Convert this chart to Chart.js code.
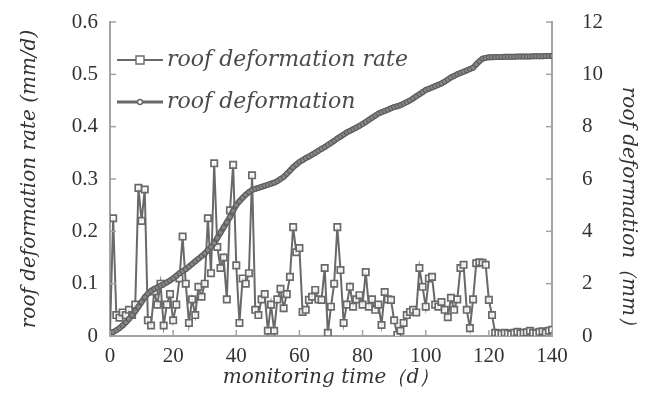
<!DOCTYPE html>
<html lang="en">
<head>
<meta charset="UTF-8">
<title>Roof deformation monitoring</title>
<script src="https://cdn.jsdelivr.net/npm/chart.js"></script>
<style>
  html, body { margin: 0; padding: 0; background: #fff; }
  #wrap { width: 646px; height: 418px; }
</style>
</head>
<body>
<div id="wrap"><canvas id="chart"></canvas></div>
<script>
// monitoring day
const days = [
  0, 1, 2, 3, 4, 5, 6, 7, 8, 9, 10, 11, 12, 13, 14, 15, 16, 17, 18, 19,
  20, 21, 22, 23, 24, 25, 26, 27, 28, 29, 30, 31, 32, 33, 34, 35, 36, 37, 38, 39,
  40, 41, 42, 43, 44, 45, 46, 47, 48, 49, 50, 51, 52, 53, 54, 55, 56, 57, 58, 59,
  60, 61, 62, 63, 64, 65, 66, 67, 68, 69, 70, 71, 72, 73, 74, 75, 76, 77, 78, 79,
  80, 81, 82, 83, 84, 85, 86, 87, 88, 89, 90, 91, 92, 93, 94, 95, 96, 97, 98, 99,
  100, 101, 102, 103, 104, 105, 106, 107, 108, 109, 110, 111, 112, 113, 114, 115, 116, 117, 118, 119,
  120, 121, 122, 123, 124, 125, 126, 127, 128, 129, 130, 131, 132, 133, 134, 135, 136, 137, 138, 139,
  140
];

// roof deformation rate (mm/d), left axis
const rate = [
  0.005, 0.225, 0.04, 0.035, 0.045, 0.04, 0.05, 0.04, 0.06, 0.283, 0.22, 0.28, 0.03, 0.02, 0.085, 0.06, 0.1, 0.02, 0.06, 0.08,
  0.03, 0.06, 0.11, 0.19, 0.1, 0.025, 0.07, 0.04, 0.094, 0.075, 0.1, 0.225, 0.12, 0.33, 0.17, 0.13, 0.15, 0.07, 0.24, 0.327,
  0.135, 0.025, 0.11, 0.1, 0.12, 0.307, 0.05, 0.04, 0.07, 0.08, 0.01, 0.06, 0.01, 0.07, 0.09, 0.053, 0.08, 0.113, 0.208, 0.16,
  0.168, 0.046, 0.05, 0.069, 0.075, 0.088, 0.07, 0.069, 0.13, 0.006, 0.056, 0.1, 0.208, 0.126, 0.025, 0.06, 0.094, 0.056, 0.07, 0.078,
  0.06, 0.122, 0.056, 0.07, 0.05, 0.06, 0.021, 0.084, 0.07, 0.069, 0.03, 0.002, 0.01, 0.025, 0.04, 0.046, 0.05, 0.045, 0.13, 0.094,
  0.056, 0.11, 0.113, 0.06, 0.056, 0.065, 0.05, 0.036, 0.073, 0.05, 0.07, 0.13, 0.136, 0.05, 0.015, 0.07, 0.139, 0.141, 0.14, 0.136,
  0.069, 0.04, 0.006, 0.005, 0.004, 0.006, 0.005, 0.003, 0.006, 0.008, 0.005, 0.006, 0.007, 0.01, 0.006, 0.005, 0.008, 0.009, 0.006, 0.01,
  0.012
];

// cumulative roof deformation (mm), right axis
const deformation = [
  0.10, 0.15, 0.22, 0.30, 0.40, 0.52, 0.65, 0.80, 0.95, 1.12, 1.30, 1.48, 1.62, 1.72, 1.80, 1.86, 1.92, 1.98, 2.05, 2.12,
  2.20, 2.30, 2.40, 2.48, 2.55, 2.65, 2.75, 2.85, 2.95, 3.05, 3.15, 3.28, 3.40, 3.55, 3.75, 3.95, 4.15, 4.35, 4.55, 4.78,
  5.00, 5.15, 5.28, 5.40, 5.50, 5.58, 5.62, 5.66, 5.70, 5.74, 5.78, 5.82, 5.86, 5.92, 6.00, 6.08, 6.20, 6.32, 6.45, 6.55,
  6.65, 6.72, 6.80, 6.86, 6.93, 7.00, 7.08, 7.15, 7.22, 7.30, 7.38, 7.46, 7.55, 7.62, 7.70, 7.78, 7.84, 7.90, 7.96, 8.03,
  8.10, 8.18, 8.26, 8.34, 8.42, 8.50, 8.55, 8.60, 8.65, 8.70, 8.75, 8.78, 8.82, 8.88, 8.94, 9.00, 9.08, 9.16, 9.24, 9.32,
  9.40, 9.45, 9.50, 9.55, 9.60, 9.65, 9.72, 9.80, 9.88, 9.94, 10.00, 10.05, 10.10, 10.15, 10.20, 10.25, 10.38, 10.50, 10.60, 10.63,
  10.65, 10.65, 10.66, 10.66, 10.66, 10.67, 10.67, 10.67, 10.67, 10.68, 10.68, 10.68, 10.68, 10.68, 10.69, 10.69, 10.69, 10.69, 10.70, 10.70,
  10.70
];

const seriesNames = ['roof deformation rate', 'roof deformation'];

const lineGrey = '#696969';
const axisGrey = '#a3a3a3';
const tickFont = { family: 'Liberation Serif', size: 21 };
const titleFont = { family: 'DejaVu Serif', size: 20, style: 'italic' };

// inward tick marks + legend with line/marker samples
const decor = {
  id: 'decor',
  afterDraw(chart) {
    const { ctx, chartArea: a, scales } = chart;
    ctx.save();
    ctx.strokeStyle = axisGrey;
    ctx.lineWidth = 1.5;
    const seg = (x1, y1, x2, y2) => { ctx.beginPath(); ctx.moveTo(x1, y1); ctx.lineTo(x2, y2); ctx.stroke(); };
    scales.y.ticks.forEach(t => { const p = scales.y.getPixelForValue(t.value); seg(a.left, p, a.left + 6, p); });
    scales.y1.ticks.forEach(t => { const p = scales.y1.getPixelForValue(t.value); seg(a.right - 6, p, a.right, p); });
    scales.x.ticks.forEach(t => { const p = scales.x.getPixelForValue(t.value); seg(p, a.bottom, p, a.bottom - 6); });

    // legend
    const rows = [60, 102];
    ctx.font = 'italic 22px "DejaVu Serif"';
    ctx.textBaseline = 'middle';
    rows.forEach((y, i) => {
      ctx.strokeStyle = lineGrey;
      ctx.lineWidth = i === 0 ? 1.8 : 2.8;
      seg(117, y, 163, y);
      ctx.fillStyle = '#fff';
      ctx.lineWidth = 1.4;
      ctx.beginPath();
      if (i === 0) ctx.rect(136, y - 4, 8, 8);
      else ctx.arc(140, y, 2.5, 0, Math.PI * 2);
      ctx.fill();
      ctx.stroke();
      ctx.fillStyle = '#4a4a4a';
      ctx.fillText(seriesNames[i], 167, y);
    });
    ctx.restore();
  }
};

new Chart(document.getElementById('chart'), {
  type: 'line',
  data: {
    datasets: [
      {
        label: seriesNames[0],
        data: days.map((d, i) => ({ x: d, y: rate[i] })),
        yAxisID: 'y',
        borderColor: lineGrey,
        borderWidth: 2,
        pointStyle: 'rect',
        pointRadius: 4.5,
        pointBorderWidth: 1.7,
        pointBorderColor: lineGrey,
        pointBackgroundColor: 'rgba(255,255,255,0.85)',
        tension: 0,
        order: 1
      },
      {
        label: seriesNames[1],
        data: days.map((d, i) => ({ x: d, y: deformation[i] })),
        yAxisID: 'y1',
        borderColor: lineGrey,
        borderWidth: 6,
        pointStyle: 'circle',
        pointRadius: 2.5,
        pointBorderWidth: 1,
        pointBorderColor: '#5a5a5a',
        pointBackgroundColor: '#858585',
        tension: 0,
        order: 0
      }
    ]
  },
  options: {
    responsive: true,
    maintainAspectRatio: false,
    animation: false,
    layout: { padding: { top: 22, left: 0, right: 0, bottom: 0 } },
    plugins: { legend: { display: false }, tooltip: { enabled: false } },
    scales: {
      x: {
        type: 'linear',
        min: 0, max: 140,
        ticks: { stepSize: 20, font: tickFont, color: '#333', padding: 8, maxRotation: 0 },
        grid: { display: false, drawTicks: false },
        border: { display: true, color: axisGrey, width: 2 },
        title: { display: true, text: 'monitoring time（d）', font: titleFont, color: '#333', padding: { top: 0, bottom: 28 } },
        afterFit(s) { s.height = 82; s.paddingLeft = 0; s.paddingRight = 0; }
      },
      y: {
        position: 'left',
        min: 0, max: 0.6,
        ticks: { stepSize: 0.1, font: tickFont, color: '#333', padding: 12, callback: v => v === 0 ? '0' : v.toFixed(1) },
        grid: { display: false, drawTicks: false },
        border: { display: true, color: axisGrey, width: 2 },
        title: { display: true, text: 'roof deformation rate (mm/d)', font: titleFont, color: '#333', padding: { top: 18, bottom: 0 } },
        afterFit(s) { s.width = 110; s.paddingTop = 0; s.paddingBottom = 0; }
      },
      y1: {
        position: 'right',
        min: 0, max: 12,
        ticks: { stepSize: 2, font: tickFont, color: '#333', padding: 30 },
        grid: { display: false, drawTicks: false },
        border: { display: true, color: axisGrey, width: 2 },
        title: { display: true, text: 'roof deformation（mm）', font: titleFont, color: '#333', align: 'start', padding: { top: 6, bottom: 0 } },
        afterFit(s) { s.width = 94; s.paddingTop = 0; s.paddingBottom = 0; }
      }
    }
  },
  plugins: [decor]
});
</script>
</body>
</html>
